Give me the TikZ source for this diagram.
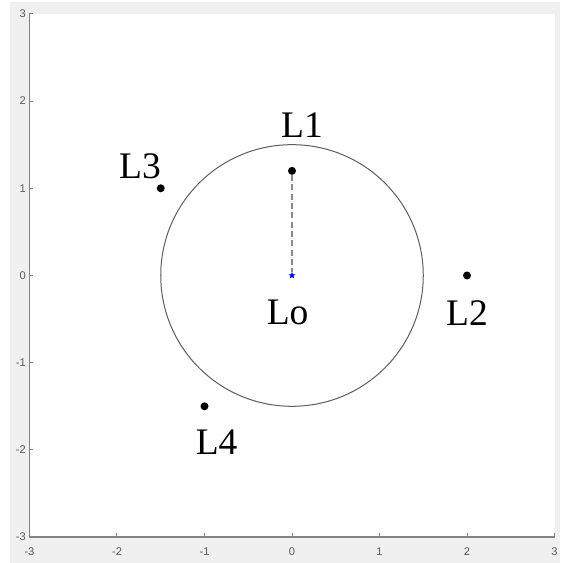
\documentclass[tikz,border=0pt]{standalone}
\usepackage{fontspec}
\setmainfont{Liberation Serif}
\newfontfamily\ejefont{Liberation Sans}
\usepackage{tikz}
\usetikzlibrary{positioning,shapes.geometric}
\definecolor{cfondo}{HTML}{F0F0F0}
\definecolor{ceje}{HTML}{828282}
\definecolor{cnum}{HTML}{5A5A5A}
\definecolor{ccirc}{HTML}{5E5E5E}
\definecolor{craya}{HTML}{8A8A8A}
\tikzset{
  punto/.style={circle, fill=black, inner sep=0pt, minimum size=0.24cm},
  estrella/.style={star, star points=5, star point ratio=2.3, fill=blue, draw=blue,
    inner sep=0pt, minimum size=0.17cm},
  etiqueta/.style={font=\fontsize{32}{36}\selectfont, anchor=base, inner sep=0pt},
  numeje/.style={font=\ejefont\fontsize{9.5}{10}\selectfont, text=cnum, inner sep=0pt},
  eje/.style={draw=ceje, line width=0.045cm},
  marca/.style={draw=ceje, line width=0.03cm},
  raya/.style={draw=craya, dash pattern=on 0.18cm off 0.1cm, line width=0.04cm},
}

\begin{document}
\begin{tikzpicture}[x=2.625cm, y=2.616cm]
  \useasboundingbox (-3.337,-3.297) rectangle (3.063,3.159);
  \fill[cfondo] (-3.223,-3.297) rectangle (3.063,3.136);
  \fill[white] (-3,-3) rectangle (3,3);
  % ejes
  \draw[eje] (-3,3) -- (-3,-3) -- (3,-3);
  \foreach \k in {-3,...,3} {
    \draw[marca] (\k,-3) -- (\k,-2.955);
    \draw[marca] (-3,\k) -- (-2.955,\k);
    \node[numeje] at (\k,-3.168) {\k};
    \node[numeje, anchor=east] at (-3.04,\k) {\k};
  }
  % circulo
  \draw[ccirc, line width=0.03cm] (0,0) circle [radius=1.5];
  % puntos
  \node[punto] (l1) at (0,1.2) {};
  \node[punto] (l2) at (2,0) {};
  \node[punto] (l3) at (-1.5,1) {};
  \node[punto] (l4) at (-1,-1.5) {};
  \node[estrella] (lo) at (0,0) {};
  \draw[raya] (l1) -- (lo);
  % etiquetas
  \node[etiqueta] (t1) at (0.114,1.577) {L1};
  \node[etiqueta] (t2) at (2.0,-0.568) {L2};
  \node[etiqueta] (t3) at (-1.737,1.115) {L3};
  \node[etiqueta] (t4) at (-0.861,-2.058) {L4};
  \node[etiqueta] (to) at (-0.05,-0.56) {Lo};
\end{tikzpicture}
\end{document}
